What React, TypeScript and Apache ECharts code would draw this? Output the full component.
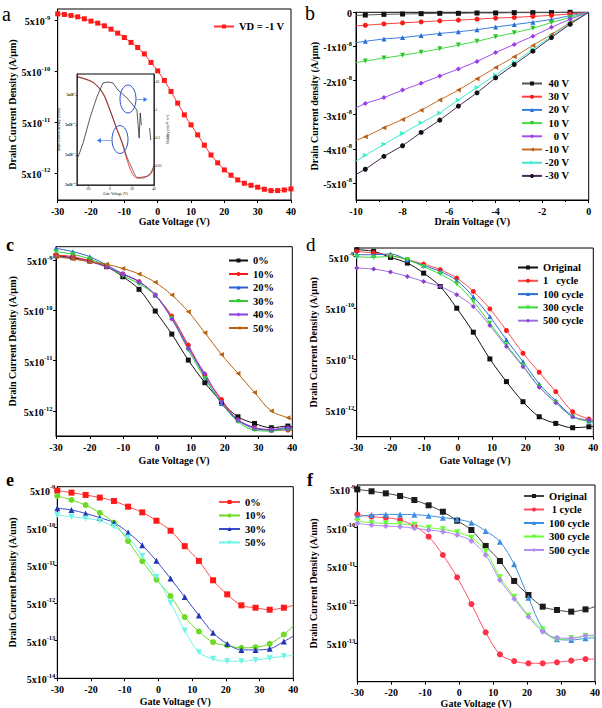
import React, { useEffect, useRef } from "react";
import * as echarts from "echarts";

const FONT = "'Liberation Serif', 'Times New Roman', serif";

// ---------------- data ----------------
// panel a
const aGate = [-30, -28, -26, -24, -22, -20, -18, -16, -14, -12, -10, -8, -6, -4, -2, 0, 2, 4, 6, 8, 10, 12, 14, 16, 18, 20, 22, 24, 26, 28, 30, 32, 34, 36, 38, 40];
const aCurrent = [6.76e-9, 6.56e-9, 6.27e-9, 5.9e-9, 5.39e-9, 4.85e-9, 4.43e-9, 3.92e-9, 3.37e-9, 2.82e-9, 2.31e-9, 1.85e-9, 1.47e-9, 1.1e-9, 7.45e-10, 5.1e-10, 3.3e-10, 2.0e-10, 1.18e-10, 6.95e-11, 4.42e-11, 2.81e-11, 1.76e-11, 1.13e-11, 7.9e-12, 5.74e-12, 4.51e-12, 3.65e-12, 3.14e-12, 2.86e-12, 2.62e-12, 2.39e-12, 2.25e-12, 2.25e-12, 2.32e-12, 2.43e-12];

// inset of panel a
const insetGate = [-30, -15.5, -6.4, 0, 6.4, 10.9, 15.5, 20, 24.5, 30, 36.4, 40];
const insetRed = [2.1e-8, 1.35e-8, 5.9e-9, 1.6e-9, 3.4e-10, 1.25e-10, 3.4e-11, 1.25e-11, 8.5e-12, 9.3e-12, 1.08e-11, 2e-11];
const insetBlack = [2.0e-8, 1.3e-8, 5.5e-9, 1.5e-9, 3.6e-10, 1.4e-10, 4.2e-11, 1.8e-11, 9e-12, 8.5e-12, 1.2e-11, 2.2e-11];
const insetMobGate = [-29, -24.5, -18, -12, -6.4, -1.8, 2.7, 7.3, 15.5, 21, 24.5, 26.5, 27.5, 28.5];
const insetMobility = [0.021, 0.066, 0.56, 2.9, 9.3, 10.1, 9.3, 5.2, 2.7, 1.5, 1.0, 0.1, 0.79, 0.29];
const insetMobGate2 = [36, 37];
const insetMobility2 = [0.23, 0.085];

// panel b
const bDrain = [-10, -9.6, -8.8, -8.0, -7.2, -6.4, -5.6, -4.8, -4.0, -3.2, -2.4, -1.6, -0.8, 0];
const bNames = ["40 V", "30 V", "20 V", "10 V", "0 V", "-10 V", "-20 V", "-30 V"];
const b40 = [-0.09e-8, -0.08e-8, -0.06e-8, -0.05e-8, -0.04e-8, -0.03e-8, -0.03e-8, -0.02e-8, -0.02e-8, -0.01e-8, -0.01e-8, -0.01e-8, 0, 0];
const b30 = [-0.4e-8, -0.38e-8, -0.34e-8, -0.31e-8, -0.28e-8, -0.25e-8, -0.23e-8, -0.2e-8, -0.17e-8, -0.15e-8, -0.12e-8, -0.09e-8, -0.05e-8, 0];
const b20 = [-0.89e-8, -0.85e-8, -0.78e-8, -0.74e-8, -0.68e-8, -0.62e-8, -0.57e-8, -0.51e-8, -0.43e-8, -0.36e-8, -0.29e-8, -0.21e-8, -0.1e-8, 0];
const b10 = [-1.47e-8, -1.43e-8, -1.34e-8, -1.26e-8, -1.17e-8, -1.07e-8, -0.96e-8, -0.85e-8, -0.72e-8, -0.6e-8, -0.47e-8, -0.3e-8, -0.15e-8, 0];
const b0 = [-2.8e-8, -2.67e-8, -2.5e-8, -2.28e-8, -2.08e-8, -1.87e-8, -1.66e-8, -1.44e-8, -1.18e-8, -0.94e-8, -0.7e-8, -0.44e-8, -0.2e-8, 0];
const bm10 = [-3.75e-8, -3.65e-8, -3.38e-8, -3.14e-8, -2.87e-8, -2.57e-8, -2.28e-8, -1.95e-8, -1.62e-8, -1.3e-8, -0.97e-8, -0.65e-8, -0.3e-8, 0];
const bm20 = [-4.36e-8, -4.19e-8, -3.87e-8, -3.55e-8, -3.24e-8, -2.95e-8, -2.57e-8, -2.2e-8, -1.84e-8, -1.47e-8, -1.08e-8, -0.7e-8, -0.32e-8, 0];
const bm30 = [-4.75e-8, -4.6e-8, -4.22e-8, -3.91e-8, -3.52e-8, -3.16e-8, -2.75e-8, -2.36e-8, -1.92e-8, -1.53e-8, -1.14e-8, -0.74e-8, -0.35e-8, 0];
const bTicks = [0, -1e-8, -2e-8, -3e-8, -4e-8, -5e-8];

// panel c
const cGate = [-30, -25, -20, -15, -10.2, -5.4, -0.6, 4.3, 9.2, 14.1, 19.0, 23.9, 28.8, 33.8, 38.7, 40];
const cNames = ["0%", "10%", "20%", "30%", "40%", "50%"];
const c0 = [6.1e-9, 5.56e-9, 4.78e-9, 3.69e-9, 2.33e-9, 1.31e-9, 4.85e-10, 1.69e-10, 5.15e-11, 1.83e-11, 7.66e-12, 3.85e-12, 2.84e-12, 2.33e-12, 2.52e-12, 2.44e-12];
const c10 = [6.28e-9, 5.82e-9, 4.78e-9, 3.69e-9, 2.64e-9, 1.86e-9, 1.01e-9, 3.85e-10, 1.02e-10, 2.59e-11, 8.53e-12, 3.31e-12, 2.33e-12, 2.1e-12, 2.1e-12, 2.1e-12];
const c20 = [8.53e-9, 7.33e-9, 5.82e-9, 3.98e-9, 2.64e-9, 1.86e-9, 1.01e-9, 3.57e-10, 9.2e-11, 2.4e-11, 7.1e-12, 3.31e-12, 2.26e-12, 2.1e-12, 2.26e-12, 2.26e-12];
const c30 = [7.33e-9, 6.49e-9, 5.24e-9, 3.8e-9, 2.44e-9, 1.69e-9, 9.93e-10, 3.47e-10, 8.15e-11, 2.23e-11, 7.33e-12, 3.07e-12, 2.1e-12, 2.0e-12, 2.16e-12, 2.16e-12];
const c40 = [5.82e-9, 5.4e-9, 4.63e-9, 3.63e-9, 2.67e-9, 1.86e-9, 1.01e-9, 3.37e-10, 8.79e-11, 2.8e-11, 7.66e-12, 3.41e-12, 2.37e-12, 2.16e-12, 2.37e-12, 2.33e-12];
const c50 = [5.82e-9, 5.24e-9, 4.63e-9, 4.1e-9, 3.41e-9, 2.64e-9, 1.8e-9, 1.01e-9, 4.71e-10, 1.8e-10, 6.68e-11, 2.8e-11, 1.17e-11, 5.0e-12, 3.69e-12, 3.47e-12];

// panel d
const dGate = [-30, -25, -20, -15, -10.2, -5.3, -0.4, 4.5, 9.4, 14.3, 19.2, 24, 28.9, 33.9, 38.7, 40];
const dNames = ["Original", "1   cycle", "100 cycle", "300 cycle", "500 cycle"];
const dOrig = [6.86e-9, 6.35e-9, 4.85e-9, 3.76e-9, 2.39e-9, 1.31e-9, 4.94e-10, 1.68e-10, 5.05e-11, 1.82e-11, 7.38e-12, 3.75e-12, 2.78e-12, 2.29e-12, 2.39e-12, 2.43e-12];
const d1 = [6.35e-9, 5.9e-9, 5.31e-9, 4.37e-9, 3.59e-9, 2.79e-9, 1.91e-9, 1.05e-9, 4.8e-10, 1.81e-10, 6.52e-11, 2.77e-11, 1.16e-11, 4.7e-12, 3.38e-12, 3.23e-12];
const d100 = [5.47e-9, 5.47e-9, 5.64e-9, 4.37e-9, 3.38e-9, 2.58e-9, 1.72e-9, 8.24e-10, 3.4e-10, 1.19e-10, 4.48e-11, 1.64e-11, 7.73e-12, 3.86e-12, 3.09e-12, 3.0e-12];
const d300 = [5.0e-9, 4.85e-9, 5.08e-9, 4.37e-9, 3.18e-9, 2.29e-9, 1.46e-9, 6.68e-10, 2.52e-10, 9.48e-11, 3.73e-11, 1.45e-11, 7.16e-12, 3.75e-12, 3.0e-12, 2.91e-12];
const d500 = [3.0e-9, 2.87e-9, 2.51e-9, 2.06e-9, 1.64e-9, 1.31e-9, 9.02e-10, 5.33e-10, 2.26e-10, 8.79e-11, 3.57e-11, 1.41e-11, 7.05e-12, 3.75e-12, 3.23e-12, 3.13e-12];

// panel e
const eGate = [-30, -25.8, -21.6, -17.4, -13.2, -9, -4.8, -0.6, 3.6, 7.8, 12, 16.2, 20.4, 24.6, 28.8, 33, 37.2, 40];
const eNames = ["0%", "10%", "30%", "50%"];
const e0 = [4.8e-9, 4.25e-9, 3.68e-9, 3.13e-9, 2.55e-9, 1.8e-9, 1.27e-9, 7.62e-10, 4.13e-10, 1.61e-10, 6.55e-11, 2.0e-11, 8.47e-12, 4.32e-12, 3.74e-12, 3.31e-12, 3.74e-12, 4.32e-12];
const e10 = [3.46e-9, 2.71e-9, 1.99e-9, 1.24e-9, 6.75e-10, 2.19e-10, 6.41e-11, 2.08e-11, 7.66e-12, 2.11e-12, 8.75e-13, 4.55e-13, 3.71e-13, 3.21e-13, 3.35e-13, 4.11e-13, 7.28e-13, 1.26e-12];
const e30 = [1.63e-9, 1.47e-9, 1.19e-9, 9.16e-10, 6.75e-10, 3.72e-10, 1.71e-10, 6.55e-11, 2.22e-11, 7.19e-12, 2.34e-12, 8.07e-13, 4.11e-13, 2.84e-13, 2.84e-13, 3.03e-13, 4.74e-13, 6.58e-13];
const e50 = [1.08e-9, 9.75e-10, 8.79e-10, 7.62e-10, 5.27e-10, 2.74e-10, 8.89e-11, 2.45e-11, 5.08e-12, 9.31e-13, 2.47e-13, 1.64e-13, 1.42e-13, 1.42e-13, 1.54e-13, 1.71e-13, 1.93e-13, 2.01e-13];

// panel f
const fGate = [-30, -25.8, -21.6, -17.4, -13.2, -9, -4.8, -0.6, 3.6, 7.8, 12, 16.2, 20.4, 24.6, 28.8, 33, 37.2, 40];
const fNames = ["Original", " 1 cycle", "100 cycle", "300 cycle", "500 cycle"];
const fOrig = [4.9e-9, 4.36e-9, 3.86e-9, 3.3e-9, 2.59e-9, 1.89e-9, 1.29e-9, 7.55e-10, 4.33e-10, 1.67e-10, 6.81e-11, 2.07e-11, 8.95e-12, 4.46e-12, 3.66e-12, 3.31e-12, 3.8e-12, 4.46e-12];
const f1 = [1.1e-9, 9.59e-10, 9.04e-10, 7.87e-10, 5.5e-10, 2.91e-10, 9.73e-11, 2.57e-11, 5.22e-12, 9.64e-13, 2.59e-13, 1.74e-13, 1.52e-13, 1.52e-13, 1.61e-13, 1.78e-13, 1.96e-13, 1.96e-13];
const f100 = [9.59e-10, 1.06e-9, 1.1e-9, 1.1e-9, 1.08e-9, 1.02e-9, 9.04e-10, 8.18e-10, 6.7e-10, 4.07e-10, 2.16e-10, 5.58e-11, 7.64e-12, 1.22e-12, 6.35e-13, 6.1e-13, 6.75e-13, 7.01e-13];
const f300 = [7.41e-10, 6.7e-10, 6.44e-10, 6.19e-10, 5.83e-10, 4.98e-10, 4.51e-10, 3.77e-10, 2.74e-10, 1.24e-10, 2.57e-11, 8.11e-12, 2.61e-12, 1.15e-12, 6.35e-13, 6.75e-13, 7.74e-13, 7.91e-13];
const f500 = [6.44e-10, 5.83e-10, 5.5e-10, 5.28e-10, 4.79e-10, 4.33e-10, 3.92e-10, 3.21e-10, 2.24e-10, 9.73e-11, 2.19e-11, 7.19e-12, 2.45e-12, 1.0e-12, 7.01e-13, 6.75e-13, 7.91e-13, 8.22e-13];

// tick values (5 x 10^n)
const logTicksA = [5e-9, 5e-10, 5e-11, 5e-12];
const logTicksE = [5e-9, 5e-10, 5e-11, 5e-12, 5e-13, 5e-14];
const insetLeftTicks = [5e-9, 5e-10, 5e-11, 5e-12];
const insetRightTicks = [0.01, 0.1, 1, 10];
const insetXTicks = [-20, 0, 20, 40];

// ---------------- helpers ----------------
const mkRich = (size: number) => ({
  b: { fontSize: size, fontWeight: "bold", fontFamily: FONT, color: "#000", lineHeight: size * 1.3, verticalAlign: "bottom" },
  s: { fontSize: size * 0.65, fontWeight: "bold", fontFamily: FONT, color: "#000", verticalAlign: "top" },
});
const sciLabel = (v: number) => {
  const e = Math.round(Math.log10(v / 5));
  return `{b|5x10}{s|${e}}`;
};
const linLabel = (v: number) => (Math.abs(v) < 1e-12 ? "{b|0}" : `{b|${Math.round(v / 1e-8)}x10}{s|-8}`);

const nameStyle = { color: "#000", fontSize: 10, fontWeight: "bold", fontFamily: FONT };
const tickLabelStyle = { color: "#000", fontSize: 10, fontWeight: "bold", fontFamily: FONT };

function xAxisGate(gi: number, nameGap: number, name = "Gate Voltage (V)") {
  return {
    type: "value", gridIndex: gi, min: -30, max: 40, interval: 10,
    axisLine: { show: true, onZero: false, lineStyle: { color: "#000", width: 1 } },
    axisTick: { show: true, length: 3, lineStyle: { color: "#000" } },
    axisLabel: { ...tickLabelStyle, margin: 6 },
    splitLine: { show: false },
    name, nameLocation: "middle", nameGap, nameTextStyle: nameStyle,
  };
}
function yAxisLog(gi: number, min: number, max: number, ticks: number[], nameGap: number, margin: number, name: string) {
  return {
    type: "log", logBase: 10, gridIndex: gi, min, max,
    axisLine: { show: true, onZero: false, lineStyle: { color: "#000", width: 1 } },
    axisTick: { show: true, length: 3, customValues: ticks, lineStyle: { color: "#000" } },
    axisLabel: { customValues: ticks, formatter: sciLabel, rich: mkRich(10), margin },
    minorTick: { show: false },
    splitLine: { show: false },
    name, nameLocation: "middle", nameGap, nameTextStyle: nameStyle,
  };
}

function curve(
  key: string, name: string, gi: number, xs: number[], ys: number[], color: string,
  symbol: string, rotate: number, size: number, smooth: boolean, hideIdx: number[], lineColor?: string
) {
  return {
    type: "line", name: `${key}|${name}`, xAxisIndex: gi, yAxisIndex: gi,
    data: xs.map((x, i) => (hideIdx.includes(i) ? { value: [x, ys[i]], symbol: "none" } : [x, ys[i]])),
    symbol, symbolSize: size, symbolRotate: rotate, smooth: smooth ? 0.35 : false,
    showSymbol: true,
    lineStyle: { color: lineColor || color, width: 1 },
    itemStyle: { color },
    z: 3,
  };
}

const legendText = { color: "#000", fontSize: 10.5, fontWeight: "bold", fontFamily: FONT, lineHeight: 10 };
function legend(key: string, names: string[], left: number, top: number, gap: number, itemWidth: number, rightAlign = false) {
  return {
    orient: "vertical", left, top, padding: 0,
    data: names.map((n) => `${key}|${n}`),
    itemWidth, itemHeight: 5, itemGap: gap,
    selectedMode: false,
    formatter: rightAlign ? (n: string) => `{r|${n.split("|")[1]}}` : (n: string) => n.split("|")[1],
    textStyle: rightAlign
      ? { ...legendText, rich: { r: { ...legendText, width: 22, align: "right" } } }
      : legendText,
  };
}

const letter = (t: string, left: number, top: number, bold: boolean, size: number) => ({
  type: "text", left, top,
  style: { text: t, font: `${bold ? "bold " : ""}${size}px ${FONT}`, fill: "#000" },
});

export default function App() {
  const ref = useRef<HTMLDivElement>(null);
  useEffect(() => {
    if (!ref.current) return;
    const chart = echarts.init(ref.current, null, { renderer: "svg" });
    const gridBase = { show: true, borderColor: "#000", borderWidth: 1, backgroundColor: "transparent", containLabel: false, outerBoundsMode: "none" };
    const grids = [
      { left: 57.7, top: 9, width: 233.3, height: 191 },
      { left: 356, top: 12.3, width: 232.7, height: 187.7 },
      { left: 56, top: 246.7, width: 236.3, height: 189.3 },
      { left: 356.7, top: 248, width: 236.6, height: 188.7 },
      { left: 57.3, top: 486.7, width: 236, height: 191.6 },
      { left: 357.3, top: 485, width: 237.7, height: 196.7 },
      { left: 77, top: 74, width: 77, height: 111 },
    ].map((g) => ({ ...gridBase, ...g }));

    const tiny = { color: "#000", fontSize: 3.6, fontFamily: FONT };
    const xAxes = [
      xAxisGate(0, 16),
      {
        type: "value", gridIndex: 1, min: -10, max: 0, interval: 2,
        axisLine: { show: true, onZero: false, lineStyle: { color: "#000" } },
        axisTick: { show: true, length: 3, lineStyle: { color: "#000" } },
        minorTick: { show: true, splitNumber: 2, length: 2, lineStyle: { color: "#000" } },
        axisLabel: { ...tickLabelStyle, margin: 6 },
        splitLine: { show: false },
        name: "Drain Voltage (V)", nameLocation: "middle", nameGap: 16, nameTextStyle: nameStyle,
      },
      xAxisGate(2, 19),
      xAxisGate(3, 19),
      xAxisGate(4, 18),
      xAxisGate(5, 15),
      {
        type: "value", gridIndex: 6, min: -30, max: 40,
        axisLine: { show: true, onZero: false, lineStyle: { color: "#000", width: 0.6 } },
        axisTick: { show: true, length: 1.5, customValues: insetXTicks, lineStyle: { color: "#000", width: 0.5 } },
        axisLabel: { ...tiny, customValues: insetXTicks, margin: 2 },
        splitLine: { show: false },
        name: "Gate Voltage (V)", nameLocation: "middle", nameGap: 6, nameTextStyle: tiny,
      },
    ];
    const yAxes = [
      yAxisLog(0, 1.47e-12, 8.4e-9, logTicksA, 40, 7.5, "Drain Current Density (A/\u00b5m)"),
      {
        type: "value", gridIndex: 1, min: -5.5e-8, max: 0,
        axisLine: { show: true, onZero: false, lineStyle: { color: "#000" } },
        axisTick: { show: true, length: 3, customValues: bTicks, lineStyle: { color: "#000" } },
        axisLabel: { customValues: bTicks, formatter: linLabel, rich: mkRich(10), margin: 4 },
        splitLine: { show: false },
        name: "Drain Current density (A/\u00b5m)", nameLocation: "middle", nameGap: 36, nameTextStyle: nameStyle,
      },
      yAxisLog(2, 1.6e-12, 9.2e-9, logTicksA, 39, 3.5, "Drain Current Density (A/\u00b5m)"),
      yAxisLog(3, 1.53e-12, 7.4e-9, logTicksA, 38, 2.5, "Drain Current Density (A/\u00b5m)"),
      yAxisLog(4, 5e-14, 6.1e-9, logTicksE, 40, 2, "Drain Current Density (A/um)"),
      yAxisLog(5, 5.07e-14, 6.35e-9, logTicksE, 39, 2, "Drain Current Density (A/um)"),
      {
        type: "log", logBase: 10, gridIndex: 6, min: 5e-12, max: 2.5e-8,
        axisLine: { show: true, onZero: false, lineStyle: { color: "#000", width: 0.6 } },
        axisTick: { show: true, length: 1.5, customValues: insetLeftTicks, lineStyle: { color: "#000", width: 0.5 } },
        axisLabel: { customValues: insetLeftTicks, formatter: sciLabel, rich: mkRich(3.6), margin: 1.5 },
        splitLine: { show: false },
        name: "Drain Current Density (A/um)", nameLocation: "middle", nameGap: 10, nameTextStyle: tiny,
      },
      {
        type: "log", logBase: 10, gridIndex: 6, position: "right", min: 0.0021, max: 19.5,
        axisLine: { show: true, onZero: false, lineStyle: { color: "#000", width: 0.6 } },
        axisTick: { show: true, length: 1.5, customValues: insetRightTicks, lineStyle: { color: "#000", width: 0.5 } },
        axisLabel: { ...tiny, customValues: insetRightTicks, margin: 1.5, formatter: (v: number) => String(+v.toPrecision(2)) },
        splitLine: { show: false },
        name: "Mobility (cm\u00b2V\u207b\u00b9s\u207b\u00b9)", nameLocation: "middle", nameGap: 6, nameTextStyle: tiny,
      },
    ];

    const lastC = [cGate.length - 1];
    const lastE = [eGate.length - 1];
    const bHide = [0, bDrain.length - 1];
    const series: any[] = [
      curve("a", "VD = -1 V", 0, aGate, aCurrent, "#ff1a1a", "rect", 0, 5, false, [], "#ff3333"),
      // inset
      { type: "line", name: "inset-red", xAxisIndex: 6, yAxisIndex: 6, data: insetGate.map((x, i) => [x, insetRed[i]]), smooth: 0.3, symbol: "none", lineStyle: { color: "#ff1a1a", width: 0.8 } },
      { type: "line", name: "inset-black", xAxisIndex: 6, yAxisIndex: 6, data: insetGate.map((x, i) => [x, insetBlack[i]]), smooth: 0.3, symbol: "none", lineStyle: { color: "#111", width: 0.6 } },
      { type: "line", name: "inset-mob", xAxisIndex: 6, yAxisIndex: 7, data: insetMobGate.map((x, i) => [x, insetMobility[i]]), symbol: "none", lineStyle: { color: "#111", width: 0.7 } },
      { type: "line", name: "inset-mob2", xAxisIndex: 6, yAxisIndex: 7, data: insetMobGate2.map((x, i) => [x, insetMobility2[i]]), symbol: "none", lineStyle: { color: "#111", width: 0.7 } },
      // b
      curve("b", bNames[0], 1, bDrain, b40, "#111111", "rect", 0, 5, false, bHide, "#555555"),
      curve("b", bNames[1], 1, bDrain, b30, "#ff1a1a", "circle", 0, 5, false, bHide, "#ff4040"),
      curve("b", bNames[2], 1, bDrain, b20, "#2a6fd6", "triangle", 0, 5, false, bHide, "#3a80e0"),
      curve("b", bNames[3], 1, bDrain, b10, "#2fc42f", "triangle", 180, 5, false, bHide, "#44dd44"),
      curve("b", bNames[4], 1, bDrain, b0, "#9b3ce8", "diamond", 0, 5, false, bHide, "#a050f0"),
      curve("b", bNames[5], 1, bDrain, bm10, "#b8601a", "triangle", 90, 5, false, bHide, "#c87028"),
      curve("b", bNames[6], 1, bDrain, bm20, "#3ef0cf", "triangle", -90, 5, false, bHide, "#40e8c8"),
      curve("b", bNames[7], 1, bDrain, bm30, "#111111", "circle", 0, 5, false, bHide, "#4a2a5a"),
      // c
      curve("c", cNames[0], 2, cGate, c0, "#111111", "rect", 0, 5, true, lastC),
      curve("c", cNames[1], 2, cGate, c10, "#ff1a1a", "circle", 0, 5, true, lastC),
      curve("c", cNames[2], 2, cGate, c20, "#2a5fd8", "triangle", 0, 5, true, lastC),
      curve("c", cNames[3], 2, cGate, c30, "#33cc33", "triangle", 180, 5, true, lastC),
      curve("c", cNames[4], 2, cGate, c40, "#8f3fe0", "diamond", 0, 5, true, lastC),
      curve("c", cNames[5], 2, cGate, c50, "#b8620f", "triangle", 90, 5, true, lastC),
      // d
      curve("d", dNames[0], 3, dGate, dOrig, "#111111", "rect", 0, 5, true, lastC),
      curve("d", dNames[1], 3, dGate, d1, "#ff1a1a", "circle", 0, 5, true, lastC, "#ff4a4a"),
      curve("d", dNames[2], 3, dGate, d100, "#2a6fd6", "triangle", 0, 5, true, lastC),
      curve("d", dNames[3], 3, dGate, d300, "#33dd33", "triangle", 180, 5, true, lastC),
      curve("d", dNames[4], 3, dGate, d500, "#8a3fd0", "diamond", 0, 5, true, lastC, "#a070e0"),
      // e
      curve("e", eNames[0], 4, eGate, e0, "#ff1a1a", "rect", 0, 6, true, lastE, "#ff4a4a"),
      curve("e", eNames[1], 4, eGate, e10, "#6ddb26", "circle", 0, 6, true, lastE),
      curve("e", eNames[2], 4, eGate, e30, "#2434b8", "triangle", 0, 6, true, lastE, "#3a4ac8"),
      curve("e", eNames[3], 4, eGate, e50, "#6af5e8", "triangle", 180, 6, true, lastE),
      // f
      curve("f", fNames[0], 5, fGate, fOrig, "#1a1a1a", "rect", 0, 6, true, lastE, "#444444"),
      curve("f", fNames[1], 5, fGate, f1, "#ff3048", "circle", 0, 6, true, lastE, "#ff5068"),
      curve("f", fNames[2], 5, fGate, f100, "#3a8fe0", "triangle", 0, 6, true, lastE),
      curve("f", fNames[3], 5, fGate, f300, "#66ff33", "triangle", 180, 6, true, lastE),
      curve("f", fNames[4], 5, fGate, f500, "#b48cf0", "diamond", 0, 6, true, lastE),
    ];

    const blue = "#2a4fd0";
    const arrowBlue = "#3a7ae8";
    const graphic = [
      letter("a", 2, 4, false, 20),
      letter("b", 305, 3, false, 20),
      letter("c", 6, 236, true, 18),
      letter("d", 306, 235, false, 19),
      letter("e", 6, 471, true, 18),
      letter("f", 307, 471, true, 18),
      { type: "ellipse", shape: { cx: 128, cy: 99, rx: 8, ry: 14 }, style: { fill: "none", stroke: blue, lineWidth: 1 }, z: 10 },
      { type: "ellipse", shape: { cx: 120, cy: 139.5, rx: 8, ry: 14 }, style: { fill: "none", stroke: blue, lineWidth: 1 }, z: 10 },
      { type: "line", shape: { x1: 136, y1: 99.5, x2: 144, y2: 99.5 }, style: { stroke: "#8aa8e0", lineWidth: 1 }, z: 10 },
      { type: "polygon", shape: { points: [[147.5, 99.5], [143.5, 97], [143.5, 102]] }, style: { fill: arrowBlue }, z: 10 },
      { type: "line", shape: { x1: 112, y1: 140.5, x2: 101, y2: 140.5 }, style: { stroke: "#8aa8e0", lineWidth: 1 }, z: 10 },
      { type: "polygon", shape: { points: [[97, 140.5], [101, 138], [101, 143]] }, style: { fill: arrowBlue }, z: 10 },
    ];

    chart.setOption({
      animation: false,
      backgroundColor: "#ffffff",
      grid: grids,
      xAxis: xAxes,
      yAxis: yAxes,
      legend: [
        legend("a", ["VD = -1 V"], 213, 21, 3, 20),
        legend("b", bNames, 521, 78, 2.2, 20, true),
        legend("c", cNames, 228, 255, 2.5, 19),
        legend("d", dNames, 517, 262, 2.3, 20),
        legend("e", eNames, 218, 496.5, 2.5, 21),
        legend("f", fNames, 523, 490.5, 2.5, 20),
      ],
      series,
      graphic,
    } as any);
    return () => chart.dispose();
  }, []);
  return <div ref={ref} style={{ position: "absolute", left: 0, top: 0, width: 602, height: 708 }} />;
}
